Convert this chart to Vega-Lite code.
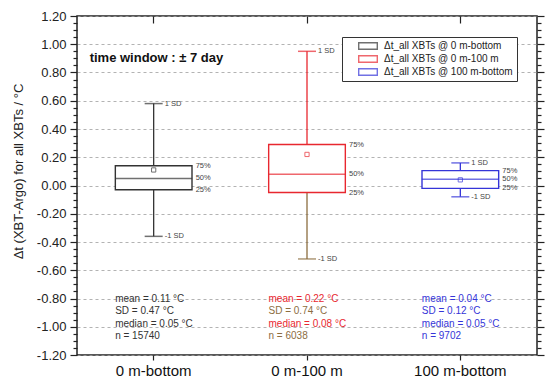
{
  "$schema": "https://vega.github.io/schema/vega-lite/v6.json",
  "width": 460,
  "height": 339,
  "autosize": {"type": "none"},
  "padding": {"left": 77, "top": 16, "right": 13, "bottom": 35},
  "config": {
    "font": "Liberation Sans",
    "view": {"stroke": "#222", "strokeWidth": 1.5}
  },
  "data": {
    "values": [
      {"group": "0 m-bottom", "lo": -0.36, "q1": -0.03, "median": 0.05, "q3": 0.14, "hi": 0.58, "mean": 0.11, "meanText": "mean = 0.11 °C", "sdText": "SD = 0.47 °C", "medianText": "median = 0.05 °C", "nText": "n = 15740"},
      {"group": "0 m-100 m", "lo": -0.52, "q1": -0.05, "median": 0.08, "q3": 0.29, "hi": 0.95, "mean": 0.22, "meanText": "mean = 0.22 °C", "sdText": "SD = 0.74 °C", "medianText": "median = 0.08 °C", "nText": "n = 6038"},
      {"group": "100 m-bottom", "lo": -0.08, "q1": -0.02, "median": 0.045, "q3": 0.105, "hi": 0.16, "mean": 0.04, "meanText": "mean = 0.04 °C", "sdText": "SD = 0.12 °C", "medianText": "median = 0.05 °C", "nText": "n = 9702"}
    ]
  },
  "resolve": {"axis": {"x": "independent", "y": "independent"}},
  "layer": [
    {
      "mark": {"type": "tick", "opacity": 0},
      "encoding": {
        "x": {
          "field": "group", "type": "nominal", "sort": null,
          "scale": {"type": "band", "domain": ["0 m-bottom", "0 m-100 m", "100 m-bottom"], "paddingInner": 0, "paddingOuter": 0},
          "axis": null
        },
        "y": {
          "field": "median", "type": "quantitative",
          "scale": {"domain": [-1.2, 1.2], "nice": false, "zero": false},
          "axis": {
            "orient": "left",
            "title": "Δt (XBT-Argo) for all XBTs / °C",
            "titleFontSize": 13, "titleFontWeight": "normal", "titleColor": "#222",
            "titleX": -59, "titleY": 155, "titleAngle": -90, "titleAlign": "center", "titleBaseline": "middle",
            "values": [-1.2, -1, -0.8, -0.6, -0.4, -0.2, 0, 0.2, 0.4, 0.6, 0.8, 1, 1.2],
            "labelExpr": "datum.value < 0 ? '-' + format(-datum.value, '.2f') : format(datum.value, '.2f')",
            "labelFontSize": 13, "labelColor": "#222", "labelOverlap": false, "labelPadding": 4,
            "tickSize": 7, "tickColor": "#222", "tickWidth": 1.2,
            "grid": true, "gridDash": [3, 3], "gridColor": "#a0a0a0", "gridWidth": 0.8,
            "domain": false
          }
        }
      }
    },
    {
      "mark": {"type": "tick", "opacity": 0},
      "encoding": {
        "x": {
          "field": "group", "type": "nominal", "sort": null,
          "scale": {"type": "band", "domain": ["0 m-bottom", "0 m-100 m", "100 m-bottom"], "paddingInner": 0, "paddingOuter": 0},
          "axis": {"orient": "top", "title": null, "labels": false, "tickSize": -7, "tickColor": "#222", "tickWidth": 1.2, "domain": false, "grid": false}
        },
        "y": {
          "field": "median", "type": "quantitative",
          "scale": {"domain": [-1.2, 1.2], "nice": false, "zero": false},
          "axis": {
            "orient": "left", "title": null, "labels": false, "domain": false, "grid": false,
            "values": [-1.15, -1.1, -1.05, -0.95, -0.9, -0.85, -0.75, -0.7, -0.65, -0.55, -0.5, -0.45, -0.35, -0.3, -0.25, -0.15, -0.1, -0.05, 0.05, 0.1, 0.15, 0.25, 0.3, 0.35, 0.45, 0.5, 0.55, 0.65, 0.7, 0.75, 0.85, 0.9, 0.95, 1.05, 1.1, 1.15],
            "tickSize": 4, "tickColor": "#222", "tickWidth": 1.2
          }
        }
      }
    },
    {
      "mark": {"type": "tick", "opacity": 0},
      "encoding": {
        "x": {
          "field": "group", "type": "nominal", "sort": null,
          "scale": {"type": "band", "domain": ["0 m-bottom", "0 m-100 m", "100 m-bottom"], "paddingInner": 0, "paddingOuter": 0},
          "axis": {"orient": "bottom", "title": null, "labelAngle": 0, "labelFontSize": 15, "labelColor": "#111", "tickSize": 5, "tickColor": "#222", "tickWidth": 1.2, "labelPadding": 3, "domain": false, "grid": false}
        },
        "y": {
          "field": "median", "type": "quantitative",
          "scale": {"domain": [-1.2, 1.2], "nice": false, "zero": false},
          "axis": {
            "orient": "right", "title": null, "labels": false, "domain": false, "grid": false,
            "values": [-1.2, -1.15, -1.1, -1.05, -1, -0.95, -0.9, -0.85, -0.8, -0.75, -0.7, -0.65, -0.6, -0.55, -0.5, -0.45, -0.4, -0.35, -0.3, -0.25, -0.2, -0.15, -0.1, -0.05, 0, 0.05, 0.1, 0.15, 0.2, 0.25, 0.3, 0.35, 0.4, 0.45, 0.5, 0.55, 0.6, 0.65, 0.7, 0.75, 0.8, 0.85, 0.9, 0.95, 1, 1.05, 1.1, 1.15, 1.2],
            "tickSize": {"condition": {"test": "abs(datum.value*5 - round(datum.value*5)) < 0.001", "value": 7}, "value": 4},
            "tickColor": "#222", "tickWidth": 1.2
          }
        }
      }
    },
    {
      "encoding": {
        "x": {
          "field": "group", "type": "nominal", "sort": null,
          "scale": {"type": "band", "domain": ["0 m-bottom", "0 m-100 m", "100 m-bottom"], "paddingInner": 0, "paddingOuter": 0},
          "axis": null
        }
      },
      "layer": [
        {
          "mark": {"type": "rule", "strokeWidth": 1.3},
          "encoding": {
            "y": {"field": "q3", "type": "quantitative", "scale": {"domain": [-1.2, 1.2], "nice": false, "zero": false}, "axis": null},
            "y2": {"field": "hi"},
            "color": {
              "field": "group", "type": "nominal",
              "scale": {"domain": ["0 m-bottom", "0 m-100 m", "100 m-bottom"], "range": ["#333333", "#e8272f", "#3535d8"]},
              "legend": {
                "orient": "none", "legendX": 265, "legendY": 21, "title": null,
                "padding": 4, "strokeColor": "#333", "fillColor": "white",
                "symbolType": "M-2.5,-1H2.5V1H-2.5Z M-2.15,-0.65V0.65H2.15V-0.65Z", "symbolSize": 64, "symbolStrokeWidth": 0,
                "symbolOffset": 17, "labelOffset": 11, "labelFontSize": 10, "labelColor": "#222", "rowPadding": 3, "labelLimit": 300,
                "labelExpr": "'Δt_all XBTs @ ' + datum.label + '        '"
              }
            }
          }
        },
        {
          "mark": {"type": "rule", "strokeWidth": 1.3},
          "encoding": {
            "y": {"field": "lo", "type": "quantitative", "axis": null},
            "y2": {"field": "q1"},
            "color": {"condition": {"test": "datum.group === '0 m-100 m'", "value": "#8c6d3f"}, "field": "group", "type": "nominal"}
          }
        },
        {
          "mark": {"type": "tick", "size": 18, "thickness": 1.5},
          "encoding": {
            "y": {"field": "hi", "type": "quantitative", "axis": null},
            "color": {"field": "group", "type": "nominal"}
          }
        },
        {
          "mark": {"type": "tick", "size": 18, "thickness": 1.5},
          "encoding": {
            "y": {"field": "lo", "type": "quantitative", "axis": null},
            "color": {"condition": {"test": "datum.group === '0 m-100 m'", "value": "#8c6d3f"}, "field": "group", "type": "nominal"}
          }
        },
        {
          "mark": {"type": "bar", "width": {"band": 0.5}, "fill": "white", "strokeWidth": 1.4},
          "encoding": {
            "y": {"field": "q1", "type": "quantitative", "axis": null},
            "y2": {"field": "q3"},
            "stroke": {
              "field": "group", "type": "nominal",
              "scale": {"domain": ["0 m-bottom", "0 m-100 m", "100 m-bottom"], "range": ["#333333", "#e8272f", "#3535d8"]},
              "legend": null
            }
          }
        },
        {
          "mark": {"type": "tick", "size": 77, "thickness": 1.5},
          "encoding": {
            "y": {"field": "median", "type": "quantitative", "axis": null},
            "color": {"field": "group", "type": "nominal"}
          }
        },
        {
          "mark": {"type": "point", "shape": "square", "filled": false, "size": 18, "strokeWidth": 1},
          "encoding": {
            "y": {"field": "mean", "type": "quantitative", "axis": null},
            "color": {"field": "group", "type": "nominal"}
          }
        },
        {
          "mark": {"type": "text", "align": "left", "baseline": "middle", "fontSize": 7.5, "xOffset": 11, "color": "#444"},
          "encoding": {"y": {"field": "hi", "type": "quantitative", "axis": null}, "text": {"value": "1 SD"}}
        },
        {
          "mark": {"type": "text", "align": "left", "baseline": "middle", "fontSize": 7.5, "xOffset": 11, "color": "#444"},
          "encoding": {"y": {"field": "lo", "type": "quantitative", "axis": null}, "text": {"value": "-1 SD"}}
        },
        {
          "mark": {"type": "text", "align": "left", "baseline": "middle", "fontSize": 7.5, "xOffset": 42, "color": "#444"},
          "encoding": {"y": {"field": "q3", "type": "quantitative", "axis": null}, "text": {"value": "75%"}}
        },
        {
          "mark": {"type": "text", "align": "left", "baseline": "middle", "fontSize": 7.5, "xOffset": 42, "color": "#444"},
          "encoding": {"y": {"field": "median", "type": "quantitative", "axis": null}, "text": {"value": "50%"}}
        },
        {
          "mark": {"type": "text", "align": "left", "baseline": "middle", "fontSize": 7.5, "xOffset": 42, "color": "#444"},
          "encoding": {"y": {"field": "q1", "type": "quantitative", "axis": null}, "text": {"value": "25%"}}
        },
        {
          "mark": {"type": "text", "align": "left", "baseline": "middle", "fontSize": 10, "xOffset": -38.5},
          "encoding": {
            "y": {"datum": -0.803, "type": "quantitative", "axis": null},
            "text": {"field": "meanText"},
            "color": {"field": "group", "type": "nominal"}
          }
        },
        {
          "mark": {"type": "text", "align": "left", "baseline": "middle", "fontSize": 10, "xOffset": -38.5},
          "encoding": {
            "y": {"datum": -0.891, "type": "quantitative", "axis": null},
            "text": {"field": "sdText"},
            "color": {"condition": {"test": "datum.group === '0 m-100 m'", "value": "#8c6d3f"}, "field": "group", "type": "nominal"}
          }
        },
        {
          "mark": {"type": "text", "align": "left", "baseline": "middle", "fontSize": 10, "xOffset": -38.5},
          "encoding": {
            "y": {"datum": -0.978, "type": "quantitative", "axis": null},
            "text": {"field": "medianText"},
            "color": {"field": "group", "type": "nominal"}
          }
        },
        {
          "mark": {"type": "text", "align": "left", "baseline": "middle", "fontSize": 10, "xOffset": -38.5},
          "encoding": {
            "y": {"datum": -1.063, "type": "quantitative", "axis": null},
            "text": {"field": "nText"},
            "color": {"condition": {"test": "datum.group === '0 m-100 m'", "value": "#8c6d3f"}, "field": "group", "type": "nominal"}
          }
        },
        {
          "data": {"values": [{"note": "time window : ± 7 day"}]},
          "mark": {"type": "text", "align": "left", "baseline": "middle", "fontSize": 13, "fontWeight": "bold", "color": "#111", "xOffset": -64},
          "encoding": {
            "x": {"datum": "0 m-bottom", "type": "nominal", "axis": null},
            "y": {"datum": 0.9, "type": "quantitative", "axis": null},
            "text": {"field": "note"}
          }
        }
      ]
    }
  ]
}
